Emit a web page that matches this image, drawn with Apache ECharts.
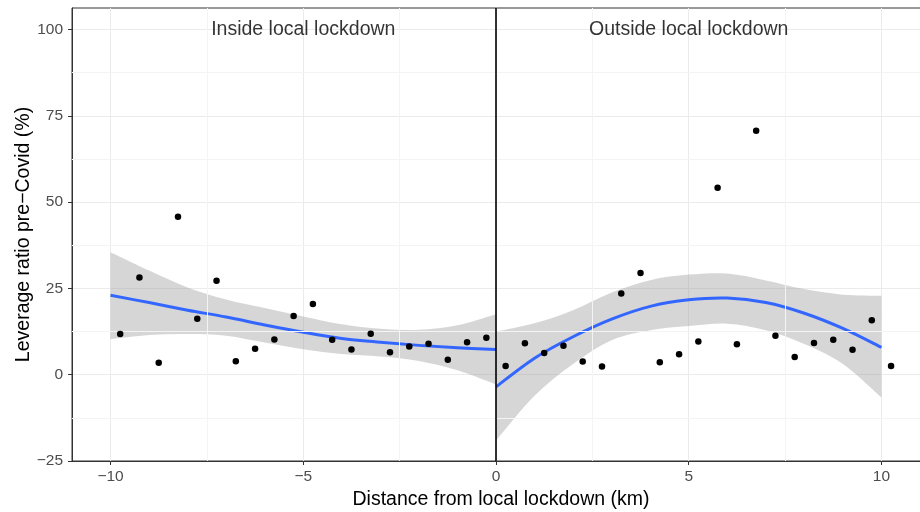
<!DOCTYPE html>
<html>
<head>
<meta charset="utf-8">
<script src="https://cdn.jsdelivr.net/npm/echarts@6/dist/echarts.min.js"></script>
<style>
  html, body { margin: 0; padding: 0; background: #fff; }
  #chart { width: 920px; height: 512px; }
</style>
</head>
<body>
<div id="chart"></div>
<script>
// points, inside (x < 0) and outside (x > 0) the local lockdown
const insideX = [-9.75, -9.25, -8.75, -8.25, -7.75, -7.25, -6.75, -6.25, -5.75, -5.25,
                 -4.75, -4.25, -3.75, -3.25, -2.75, -2.25, -1.75, -1.25, -0.75, -0.25];
const insideY = [11.8, 28.2, 3.5, 45.8, 16.2, 27.2, 3.9, 7.5, 10.2, 17.0,
                 20.5, 10.1, 7.3, 11.9, 6.5, 8.2, 9.0, 4.3, 9.4, 10.7];
const outsideX = [0.25, 0.75, 1.25, 1.75, 2.25, 2.75, 3.25, 3.75, 4.25, 4.75, 5.25,
                  5.75, 6.25, 6.75, 7.25, 7.75, 8.25, 8.75, 9.25, 9.75, 10.25];
const outsideY = [2.5, 9.1, 6.3, 8.4, 3.8, 2.4, 23.5, 29.5, 3.6, 5.9, 9.6,
                  54.2, 8.8, 70.7, 11.3, 5.1, 9.2, 10.1, 7.2, 15.8, 2.5];

// smooth fits with confidence band
const insideFitX = [-10, -9, -8, -7, -6, -5, -4, -3, -2, -1, 0];
const insideFit = [23.0, 20.9, 18.7, 16.7, 14.4, 12.3, 10.5, 9.4, 8.5, 7.8, 7.3];
const insideUpper = [35.5, 30.2, 25.3, 21.8, 19.3, 16.9, 14.6, 13.3, 13.0, 14.3, 17.5];
const insideLower = [10.3, 11.5, 11.8, 11.3, 9.3, 7.4, 6.0, 5.3, 4.0, 1.3, -2.8];

const outsideFitX = [0, 1, 2, 3, 4, 5, 6, 7, 8, 9, 10];
const outsideFit = [-3.5, 4.8, 11.0, 16.1, 19.8, 21.7, 22.2, 20.9, 17.8, 13.4, 7.9];
const outsideUpper = [12.5, 14.9, 18.7, 23.8, 27.4, 29.0, 29.3, 27.3, 24.8, 23.2, 22.9];
const outsideLower = [-19.1, -6.1, 3.1, 10.0, 12.9, 14.1, 14.8, 12.9, 8.9, 3.1, -6.6];

// axes
const xTicks = [-10, -5, 0, 5, 10];
const yTicks = [-25, 0, 25, 50, 75, 100];
const xMinor = [-7.5, -2.5, 2.5, 7.5];
const yMinor = [-12.5, 12.5, 37.5, 62.5, 87.5];

const labels = [
  { x: -5, y: 100, text: 'Inside local lockdown' },
  { x: 5, y: 100, text: 'Outside local lockdown' }
];

const FONT = '"Liberation Sans", Arial, Helvetica, sans-serif';
const minus = v => String(v).replace('-', '\u2212');

function pairs(xs, ys) {
  return xs.map((x, i) => [x, ys[i]]);
}

// catmull-rom through pixel points -> bezier path segments
function curve(pts, start) {
  let d = (start ? 'M' : 'L') + pts[0][0] + ',' + pts[0][1];
  for (let i = 0; i < pts.length - 1; i++) {
    const p0 = pts[Math.max(i - 1, 0)], p1 = pts[i], p2 = pts[i + 1];
    const p3 = pts[Math.min(i + 2, pts.length - 1)];
    const c1 = [p1[0] + (p2[0] - p0[0]) / 6, p1[1] + (p2[1] - p0[1]) / 6];
    const c2 = [p2[0] - (p3[0] - p1[0]) / 6, p2[1] - (p3[1] - p1[1]) / 6];
    d += 'C' + c1.join(',') + ' ' + c2.join(',') + ' ' + p2.join(',');
  }
  return d;
}

// confidence band as one filled path between the upper and lower edges
function band(name, xs, lo, hi) {
  return {
    name: name, type: 'custom', silent: true, z: 2,
    data: [[xs[0], lo[0]]],
    renderItem: function (params, api) {
      const up = xs.map((x, i) => api.coord([x, hi[i]]));
      const dn = xs.map((x, i) => api.coord([x, lo[i]])).reverse();
      return {
        type: 'path',
        shape: { pathData: curve(up, true) + curve(dn, false) + 'Z' },
        style: { fill: 'rgba(153,153,153,0.4)', stroke: null }
      };
    }
  };
}

// fitted curve
function fitLine(name, xs, ys) {
  return {
    name: name, type: 'custom', silent: true, z: 3,
    data: [[xs[0], ys[0]]],
    renderItem: function (params, api) {
      const pts = xs.map((x, i) => api.coord([x, ys[i]]));
      return {
        type: 'path',
        shape: { pathData: curve(pts, true) },
        style: { fill: null, stroke: '#3366FF', lineWidth: 3 }
      };
    }
  };
}

const chart = echarts.init(document.getElementById('chart'));

chart.setOption({
  animation: false,
  backgroundColor: '#fff',
  textStyle: { fontFamily: FONT },
  grid: {
    left: 72, right: -10, top: 8, bottom: 51,
    outerBoundsMode: 'none', containLabel: false,
    show: true, borderColor: '#333', borderWidth: 1
  },
  xAxis: {
    type: 'value', min: -11, max: 11.26,
    name: 'Distance from local lockdown (km)',
    nameLocation: 'middle', nameGap: 29, nameMoveOverlap: false,
    nameTextStyle: { fontSize: 19.5, color: '#000', fontFamily: FONT },
    axisLine: { show: true, onZero: false, lineStyle: { color: '#333', width: 1 } },
    axisTick: { show: true, length: 4, customValues: xTicks, lineStyle: { color: '#333' } },
    axisLabel: {
      customValues: xTicks, formatter: minus, color: '#4d4d4d',
      fontSize: 15.5, margin: 8, fontFamily: FONT
    },
    splitLine: { show: true, lineStyle: { color: '#ebebeb', width: 1 } }
  },
  yAxis: {
    type: 'value', min: -25, max: 106.25, interval: 25,
    name: 'Leverage ratio pre\u2212Covid (%)',
    nameLocation: 'middle', nameGap: 38, nameMoveOverlap: false,
    nameTextStyle: { fontSize: 19.5, color: '#000', fontFamily: FONT },
    axisLine: { show: true, onZero: false, lineStyle: { color: '#333', width: 1 } },
    axisTick: { show: true, length: 4, customValues: yTicks, lineStyle: { color: '#333' } },
    axisLabel: {
      customValues: yTicks, formatter: minus, color: '#4d4d4d',
      fontSize: 15.5, margin: 9, fontFamily: FONT
    },
    splitLine: { show: true, lineStyle: { color: '#ebebeb', width: 1 } }
  },
  series: [
    // minor grid lines
    {
      name: 'minor', type: 'line', data: [], z: 1, silent: true,
      markLine: {
        silent: true, symbol: ['none', 'none'], label: { show: false },
        lineStyle: { color: '#f4f4f4', width: 1, type: 'solid' },
        data: xMinor.map(v => ({ xAxis: v })).concat(yMinor.map(v => ({ yAxis: v })))
      }
    },
    band('insideBand', insideFitX, insideLower, insideUpper),
    band('outsideBand', outsideFitX, outsideLower, outsideUpper),
    fitLine('insideFit', insideFitX, insideFit),
    fitLine('outsideFit', outsideFitX, outsideFit),
    // vertical line at the lockdown border
    {
      name: 'border', type: 'line', data: [], z: 4, silent: true,
      markLine: {
        silent: true, symbol: ['none', 'none'], label: { show: false },
        lineStyle: { color: '#000', width: 1.6, type: 'solid' },
        data: [{ xAxis: 0 }]
      }
    },
    {
      name: 'inside', type: 'scatter', data: pairs(insideX, insideY),
      symbolSize: 6.5, itemStyle: { color: '#000', opacity: 1 }, z: 5
    },
    {
      name: 'outside', type: 'scatter', data: pairs(outsideX, outsideY),
      symbolSize: 6.5, itemStyle: { color: '#000', opacity: 1 }, z: 5
    },
    {
      name: 'labels', type: 'scatter', symbolSize: 0, z: 6, silent: true,
      data: labels.map(d => ({ value: [d.x, d.y], name: d.text })),
      label: {
        show: true, position: 'inside', formatter: '{b}',
        fontSize: 19.5, color: '#000', fontFamily: FONT
      }
    }
  ]
});
</script>
</body>
</html>
